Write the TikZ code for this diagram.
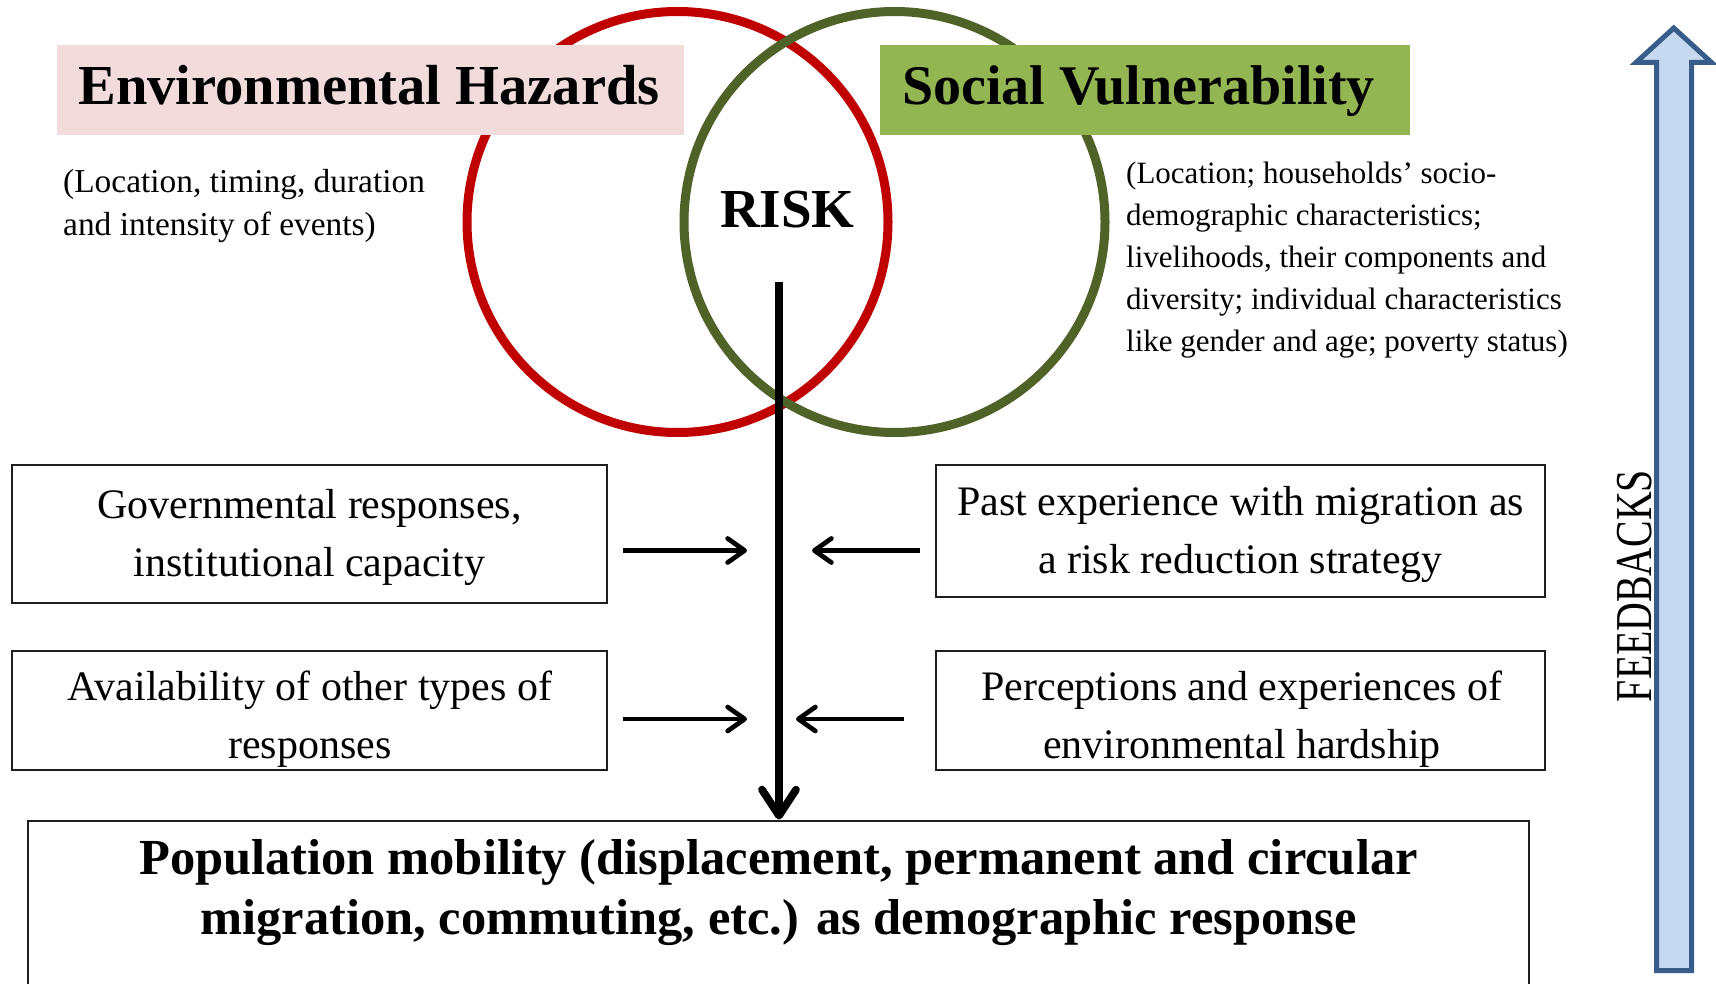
\documentclass[tikz,border=0pt]{standalone}
\usepackage{fontspec}
\setmainfont{Liberation Serif}
\usepackage{graphicx}
\usetikzlibrary{arrows.meta}
\definecolor{hazred}{RGB}{192,0,0}
\definecolor{vulgreen}{RGB}{79,98,40}
\definecolor{hazfill}{RGB}{242,220,219}
\definecolor{vulfill}{RGB}{148,182,82}
\definecolor{fbfill}{RGB}{198,217,241}
\definecolor{fbline}{RGB}{56,93,138}
\definecolor{boxline}{RGB}{30,30,30}
\newcommand{\myfs}[2]{\fontsize{#1}{#2}\selectfont}
\begin{document}
\begin{tikzpicture}[x=1pt,y=-1pt,
  ringhaz/.style={circle, draw=hazred, line width=9pt, minimum size=421pt, inner sep=0pt},
  ringvul/.style={circle, draw=vulgreen, line width=9pt, minimum size=421pt, inner sep=0pt},
  titlebox/.style={rectangle, inner sep=0pt, minimum height=90pt},
  titletext/.style={inner sep=0pt, anchor=base, font=\bfseries\myfs{56.5}{60}},
  note/.style={inner sep=0pt, anchor=west, align=left},
  factorbox/.style={rectangle, draw=boxline, line width=2pt, inner sep=0pt},
  factortext/.style={inner sep=0pt, align=center, font=\myfs{42}{58}},
  feed/.style={line width=4.7pt, -{Straight Barb[length=17pt,width=24pt,round]}},
  mainarrow/.style={line width=7.7pt, -{Straight Barb[length=26pt,width=34pt,round]}},
]
\useasboundingbox (0,0) rectangle (1716,984);
\clip (0,0) rectangle (1716,984);
\fill[white] (0,0) rectangle (1716,984);

% circles
\node[ringhaz] (hazc) at (677.5,222) {};
\node[ringvul] (vulc) at (894.5,222) {};

% title boxes
\node[titlebox, fill=hazfill, minimum width=627pt] (envbox) at (370.5,90) {};
\node[titlebox, fill=vulfill, minimum width=530pt] (vulbox) at (1145,90) {};
\node[titletext] (envt) at (369,105) {Environmental Hazards};
\node[titletext, font=\bfseries\myfs{56}{60}] (vult) at (1138.5,105) {Social Vulnerability};

% notes
\node[note, font=\myfs{33.4}{43}] (envnote) at (63,205.9) {(Location, timing, duration\\and intensity of events)};
\node[note, font=\myfs{31}{42}] (vulnote) at (1126,259.8) {(Location; households’ socio-\\demographic characteristics;\\livelihoods, their components and\\diversity; individual characteristics\\like gender and age; poverty status)};

% risk
\node[inner sep=0pt, anchor=base, font=\bfseries\myfs{55}{60}] (risk) at (787.5,228) {RISK};

% factor boxes
\node[factorbox, minimum width=595pt, minimum height=138pt] (gov) at (309.5,534) {};
\node[factortext] (govt) at (309.5,537.2) {Governmental responses,\\institutional capacity};
\node[factorbox, minimum width=595pt, minimum height=119pt] (avail) at (309.5,710.5) {};
\node[factortext] (availt) at (310,719.2) {Availability of other types of\\responses};
\node[factorbox, minimum width=609pt, minimum height=132pt] (past) at (1240.5,531) {};
\node[factortext] (pastt) at (1240.5,534.2) {Past experience with migration as\\a risk reduction strategy};
\node[factorbox, minimum width=609pt, minimum height=119pt] (perc) at (1240.5,710.5) {};
\node[factortext] (perct) at (1242,719.2) {Perceptions and experiences of\\environmental hardship};

% bottom box
\node[factorbox, minimum width=1501.5pt, minimum height=200pt, anchor=north] (mob) at (778.25,819.5) {};
\node[inner sep=0pt, align=center, font=\bfseries\myfs{50.5}{60}] (mobt) at (778.5,893) {Population mobility (displacement, permanent and circular\\migration, commuting, etc.) as demographic response};

% main arrow
\coordinate (rs) at (779,282);
\draw[mainarrow] (rs) -- (rs |- mob.north);

% side arrows
\coordinate (g1) at (623,550.5);
\coordinate (g2) at (747,550.5);
\coordinate (a1) at (623,719);
\coordinate (a2) at (747,719);
\coordinate (p1) at (920,550.5);
\coordinate (p2) at (812,550.5);
\coordinate (e1) at (904,719);
\coordinate (e2) at (796,719);
\draw[feed] (g1) -- (g2);
\draw[feed] (a1) -- (a2);
\draw[feed] (p1) -- (p2);
\draw[feed] (e1) -- (e2);

% feedback arrow
\draw[fill=fbfill, draw=fbline, line width=5pt, line join=miter]
  (1656.5,970.5) -- (1656.5,62.5) -- (1636,62.5) -- (1673.75,28) -- (1711.5,62.5)
  -- (1691.5,62.5) -- (1691.5,970.5) -- cycle;
\node[rotate=90, inner sep=0pt, font=\myfs{39.8}{40}] (fbt) at (1635,586) {\scalebox{1}[1.3]{FEEDBACKS}};
\end{tikzpicture}
\end{document}
